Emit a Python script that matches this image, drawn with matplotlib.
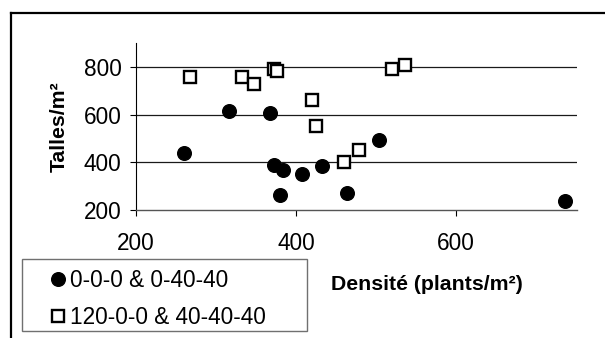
import matplotlib
matplotlib.use("Agg")
import matplotlib.pyplot as plt
from matplotlib.lines import Line2D
from matplotlib.patches import Rectangle

plt.rcParams["font.family"] = ["Liberation Sans", "DejaVu Sans"]

# density (plants/m²) vs tillers/m²
circle_x = [260, 316, 368, 372, 384, 380, 408, 432, 464, 504, 736]
circle_y = [440, 617, 605, 390, 369, 261, 351, 386, 271, 493, 236]
square_x = [268, 332, 348, 372, 376, 420, 425, 460, 479, 520, 536]
square_y = [758, 757, 729, 790, 783, 661, 553, 401, 450, 792, 808]

circle_label = "0-0-0 & 0-40-40"
square_label = "120-0-0 & 40-40-40"
x_ticks = [200, 400, 600]
y_ticks = [200, 400, 600, 800]

W, H = 605, 338
fs = 16.3
fs_bold = 15.3

fig = plt.figure(figsize=(W / 100, H / 100), dpi=100)
ax = fig.add_axes([136 / W, 1 - 210 / H, (577 - 136) / W, (210 - 43) / H])

ax.set_xlim(200, 751)
ax.set_ylim(200, 900)
ax.set_xticks(x_ticks)
ax.set_yticks(y_ticks)
ax.tick_params(labelsize=fs, colors="black")
ax.tick_params(axis="y", direction="out", length=4.5, width=0.8, pad=6)
ax.tick_params(axis="x", direction="out", length=4, width=0.8, pad=12)

for s in ["top", "right"]:
    ax.spines[s].set_visible(False)
ax.spines["left"].set_linewidth(0.8)
ax.spines["bottom"].set_linewidth(1.0)
ax.spines["bottom"].set_color("#555555")

for v in y_ticks[1:]:
    ax.axhline(v, color="#1a1a1a", lw=0.9, zorder=1)

c1, = ax.plot(circle_x, circle_y, "o", ms=9.8, color="black", ls="none",
              zorder=3, clip_on=False)
c2, = ax.plot(square_x, square_y, "s", ms=9.3, mfc="white", mec="black",
              mew=1.7, ls="none", zorder=3, clip_on=False)

fig.text(59 / W, 1 - 127 / H, "Talles/m²", rotation=90, fontsize=fs_bold,
         fontweight="bold", ha="center", va="center")
fig.text(427 / W, 1 - 285 / H, "Densité (plants/m²)", fontsize=fs_bold,
         fontweight="bold", ha="center", va="center")

# legend box
fig.patches.append(Rectangle((22 / W, 1 - 331 / H), 285 / W, 72 / H,
                             transform=fig.transFigure, fill=False,
                             edgecolor="#707070", lw=1))
fig.legend([c1, c2], [circle_label, square_label], loc="upper left",
           bbox_to_anchor=(51 / W, 1 - 269 / H), frameon=False,
           fontsize=fs, borderpad=0, borderaxespad=0, handlelength=0.6,
           handletextpad=0.25, labelspacing=0.6)

# outer chart frame
fig.add_artist(Line2D([11 / W, 1], [1 - 13 / H, 1 - 13 / H], color="black",
                      lw=1.6, transform=fig.transFigure))
fig.add_artist(Line2D([11 / W, 11 / W], [0, 1 - 13 / H], color="black",
                      lw=1.6, transform=fig.transFigure))

fig.savefig("out.png", dpi=100)
